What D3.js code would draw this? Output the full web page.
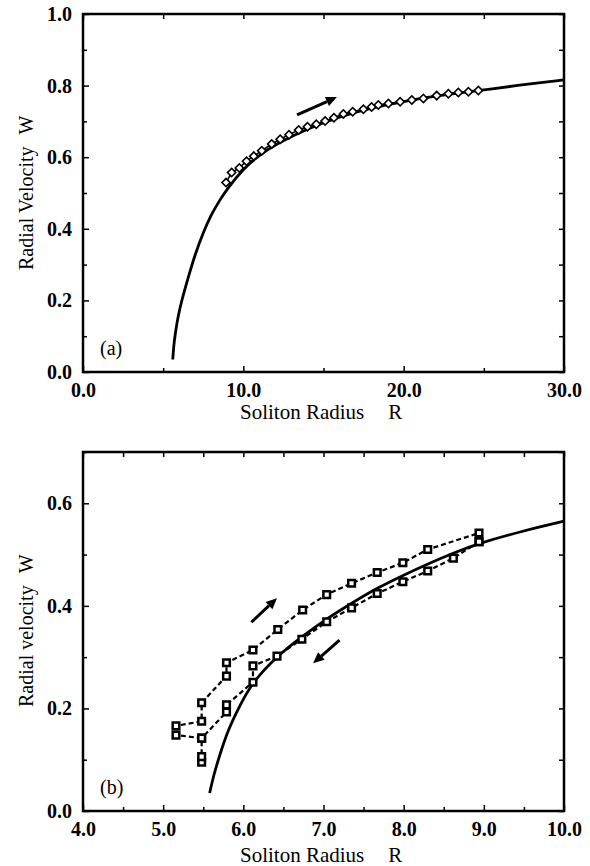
<!DOCTYPE html>
<html>
<head>
<meta charset="utf-8">
<script src="https://cdn.jsdelivr.net/npm/d3@7"></script>
<style>
body { margin: 0; background: #fff; }
svg text { font-family: "Liberation Serif", "Times New Roman", Times, serif; fill: #000; }
.tick text { font-weight: bold; font-size: 20px; }
</style>
</head>
<body>
<div id="chart"></div>
<script>
// panel (a) - theory curve and simulation points (R, W)
var curveA = [[5.6, 0.035], [5.65, 0.07], [5.76, 0.11], [5.95, 0.16], [6.16, 0.20], [6.5, 0.255],
    [7.0, 0.33], [7.5, 0.39], [8.0, 0.44], [8.5, 0.478], [9.0, 0.512], [10, 0.568], [11, 0.606],
    [12, 0.636], [14, 0.68], [16, 0.713], [18, 0.738], [20, 0.756], [22, 0.771], [24.7, 0.786],
    [27, 0.80], [30, 0.816]];
var diamondsA = [[8.92, 0.529], [9.27, 0.557], [9.75, 0.570], [10.2, 0.589], [10.65, 0.603], [11.15, 0.618],
    [11.77, 0.637], [12.3, 0.650], [12.85, 0.663], [13.45, 0.676], [14.0, 0.685], [14.55, 0.692],
    [15.1, 0.701], [15.65, 0.710], [16.24, 0.721], [16.82, 0.727], [17.49, 0.734], [18.0, 0.740],
    [18.42, 0.746], [19.05, 0.750], [19.78, 0.755], [20.51, 0.760], [21.23, 0.764], [22.06, 0.772],
    [22.79, 0.777], [23.41, 0.781], [24.04, 0.783], [24.66, 0.786]];
var arrowsA = [[13.35, 0.718, 15.84, 0.768]];
var xTicksA = [0, 10, 20, 30];
var xMinorA = [5, 15, 25];
var yTicksA = [0, 0.2, 0.4, 0.6, 0.8, 1.0];
var yMinorA = [0.1, 0.3, 0.5, 0.7, 0.9];

// panel (b)
var curveB = [[5.58, 0.035], [5.63, 0.07], [5.70, 0.106], [5.80, 0.155], [5.96, 0.207], [6.11, 0.25],
    [6.42, 0.302], [6.73, 0.34], [7.04, 0.375], [7.35, 0.405], [7.67, 0.435], [8.0, 0.46],
    [8.29, 0.481], [8.62, 0.503], [8.94, 0.522], [9.46, 0.545], [10, 0.565]];
var outwardB = [[5.48, 0.095], [5.48, 0.106], [5.48, 0.142], [5.16, 0.148], [5.16, 0.166], [5.48, 0.175],
    [5.48, 0.211], [5.79, 0.263], [5.79, 0.289], [6.12, 0.314], [6.43, 0.354], [6.74, 0.392],
    [7.04, 0.422], [7.35, 0.444], [7.67, 0.465], [7.99, 0.484], [8.30, 0.510], [8.94, 0.542], [8.94, 0.525]];
var returnB = [[8.94, 0.525], [8.62, 0.493], [8.30, 0.468], [7.99, 0.447], [7.67, 0.424], [7.35, 0.396],
    [7.04, 0.369], [6.73, 0.335], [6.42, 0.302], [6.12, 0.283], [6.12, 0.251], [5.79, 0.207],
    [5.79, 0.193], [5.48, 0.142]];
var arrowsB = [[6.10, 0.368, 6.42, 0.415], [7.20, 0.333, 6.87, 0.288]];
var xTicksB = [4, 5, 6, 7, 8, 9, 10];
var xMinorB = [4.5, 5.5, 6.5, 7.5, 8.5, 9.5];
var yTicksB = [0, 0.2, 0.4, 0.6];
var yMinorB = [0.1, 0.3, 0.5, 0.7];

var serif = '"Liberation Serif", "Times New Roman", Times, serif';

var svg = d3.select("#chart")
    .append("svg")
    .attr("width", 590)
    .attr("height", 866)
    .attr("font-family", serif);

function drawArrow(g, x1, y1, x2, y2) {
    var ang = Math.atan2(y2 - y1, x2 - x1);
    var headLen = 11, headW = 5;
    var bx = x2 - headLen * Math.cos(ang), by = y2 - headLen * Math.sin(ang);
    g.append("line")
        .attr("x1", x1).attr("y1", y1)
        .attr("x2", bx).attr("y2", by)
        .attr("stroke", "#000")
        .attr("stroke-width", 3);
    var px = -Math.sin(ang) * headW, py = Math.cos(ang) * headW;
    g.append("path")
        .attr("d", "M" + x2 + "," + y2 + "L" + (bx + px) + "," + (by + py) + "L" + (bx - px) + "," + (by - py) + "Z")
        .attr("fill", "#000");
}

function drawPanel(cfg) {
    var x = d3.scaleLinear().domain(cfg.xDomain).range([cfg.left, cfg.right]);
    var y = d3.scaleLinear().domain(cfg.yDomain).range([cfg.bottom, cfg.top]);
    var g = svg.append("g");
    var fmt = d3.format(".1f");

    // ticks pointing inward on all four sides
    g.append("g").attr("transform", "translate(0," + cfg.bottom + ")")
        .call(d3.axisBottom(x).tickValues(cfg.xTicks).tickSize(-6).tickPadding(11).tickFormat(fmt));
    g.append("g").attr("transform", "translate(0," + cfg.bottom + ")")
        .call(d3.axisBottom(x).tickValues(cfg.xMinor).tickSize(-4).tickFormat(""));
    g.append("g").attr("transform", "translate(0," + cfg.top + ")")
        .call(d3.axisTop(x).tickValues(cfg.xTicks.concat(cfg.xMinor)).tickSize(-5).tickFormat(""));
    g.append("g").attr("transform", "translate(" + cfg.left + ",0)")
        .call(d3.axisLeft(y).tickValues(cfg.yTicks).tickSize(-6).tickPadding(11).tickFormat(fmt));
    g.append("g").attr("transform", "translate(" + cfg.left + ",0)")
        .call(d3.axisLeft(y).tickValues(cfg.yMinor).tickSize(-4).tickFormat(""));
    g.append("g").attr("transform", "translate(" + cfg.right + ",0)")
        .call(d3.axisRight(y).tickValues(cfg.yTicks.concat(cfg.yMinor)).tickSize(-5).tickFormat(""));
    g.selectAll(".domain").remove();
    g.selectAll("g").attr("font-family", serif);
    g.selectAll(".tick line").attr("stroke", "#000").attr("stroke-width", 1.5);
    g.selectAll(".tick text").attr("fill", "#000");

    g.append("rect")
        .attr("x", cfg.left).attr("y", cfg.top)
        .attr("width", cfg.right - cfg.left).attr("height", cfg.bottom - cfg.top)
        .attr("fill", "none").attr("stroke", "#000").attr("stroke-width", 2.5);

    var line = d3.line().x(d => x(d[0])).y(d => y(d[1]));

    g.append("path")
        .datum(cfg.curve)
        .attr("d", d3.line().x(d => x(d[0])).y(d => y(d[1])).curve(d3.curveBasis))
        .attr("fill", "none").attr("stroke", "#000").attr("stroke-width", 2.8);

    cfg.extra(g, x, y, line);

    cfg.arrows.forEach(function (a) {
        drawArrow(g, x(a[0]), y(a[1]), x(a[2]), y(a[3]));
    });

    // axis titles
    g.append("text")
        .attr("x", cfg.xLabelX).attr("y", cfg.bottom + cfg.xLabelDy)
        .attr("font-size", 21)
        .text("Soliton Radius")
        .append("tspan").attr("dx", 24).text("R");

    g.append("text")
        .attr("transform", "translate(33," + cfg.yLabelY + ") rotate(-90)")
        .attr("font-size", 20)
        .text(cfg.yLabel)
        .append("tspan").attr("dx", 12).text("W");

    g.append("text")
        .attr("x", cfg.left + 17).attr("y", cfg.bottom - 17)
        .attr("font-size", 20)
        .text(cfg.tag);
}

drawPanel({
    left: 83, right: 564, top: 14, bottom: 372,
    xDomain: [0, 30], yDomain: [0, 1],
    xTicks: xTicksA, xMinor: xMinorA, yTicks: yTicksA, yMinor: yMinorA,
    curve: curveA, arrows: arrowsA,
    xLabelX: 240, xLabelDy: 47, yLabelY: 270, yLabel: "Radial Velocity", tag: "(a)",
    extra: function (g, x, y, line) {
        g.append("path")
            .datum(diamondsA)
            .attr("d", line)
            .attr("fill", "none").attr("stroke", "#000").attr("stroke-width", 1.6);
        g.selectAll(".dia")
            .data(diamondsA)
            .enter().append("path")
            .attr("class", "dia")
            .attr("d", d3.symbol().type(d3.symbolSquare).size(34))
            .attr("transform", d => "translate(" + x(d[0]) + "," + y(d[1]) + ") rotate(45)")
            .attr("fill", "#fff").attr("stroke", "#000").attr("stroke-width", 1.6);
    }
});

drawPanel({
    left: 83, right: 564, top: 452, bottom: 811,
    xDomain: [4, 10], yDomain: [0, 0.7],
    xTicks: xTicksB, xMinor: xMinorB, yTicks: yTicksB, yMinor: yMinorB,
    curve: curveB, arrows: arrowsB,
    xLabelX: 240, xLabelDy: 51, yLabelY: 707, yLabel: "Radial velocity", tag: "(b)",
    extra: function (g, x, y, line) {
        [outwardB, returnB].forEach(function (s) {
            g.append("path")
                .datum(s)
                .attr("d", line)
                .attr("fill", "none").attr("stroke", "#000")
                .attr("stroke-width", 2.2).attr("stroke-dasharray", "5,3");
        });
        g.selectAll(".sq")
            .data(outwardB.concat(returnB))
            .enter().append("path")
            .attr("class", "sq")
            .attr("d", d3.symbol().type(d3.symbolSquare).size(44))
            .attr("transform", d => "translate(" + x(d[0]) + "," + y(d[1]) + ")")
            .attr("fill", "#fff").attr("stroke", "#000").attr("stroke-width", 2.5);
    }
});
</script>
</body>
</html>
